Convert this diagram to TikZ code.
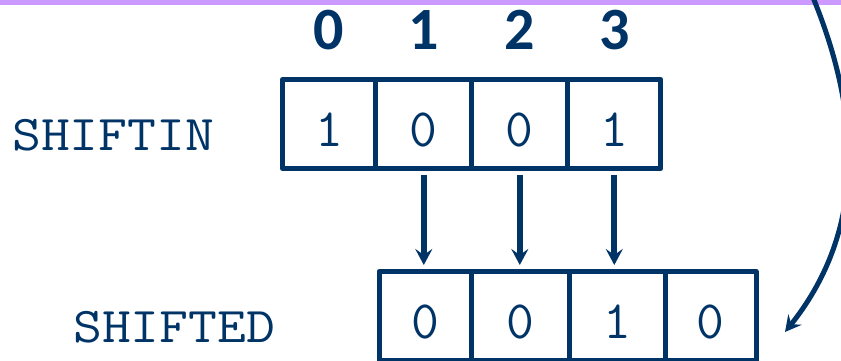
\documentclass[tikz,border=0pt]{standalone}
\usepackage{fontspec}
\newfontfamily\idxfont{Carlito}
\usetikzlibrary{arrows.meta}
\definecolor{navy}{HTML}{003366}
\definecolor{band}{HTML}{CC99FF}
\newcommand{\monotxt}[1]{\scalebox{1.12}[1]{\ttfamily\fontsize{50}{50}\selectfont #1}}
\newcommand{\monodigit}[1]{{\ttfamily\fontsize{54}{54}\selectfont #1}}
\begin{document}
\begin{tikzpicture}[x=1pt,y=1pt,
 cell/.style={draw=navy, line width=5pt, line join=round, minimum height=89pt, inner sep=0pt, outer sep=0pt},
 bit/.style={text=navy, anchor=base, inner sep=0pt},
 idx/.style={font=\idxfont\bfseries\fontsize{60}{60}\selectfont, text=navy, anchor=base, inner sep=0pt},
 lbl/.style={text=navy, anchor=base west, inner sep=0pt},
 tip/.style={-{Stealth[length=16pt,width=17pt,inset=6pt]}},
 shiftarrow/.style={draw=navy, line width=6pt, tip, shorten <=6.5pt, shorten >=6.5pt},
 wraparrow/.style={draw=navy, line width=5pt, tip},
]
\useasboundingbox (0,0) rectangle (841,361);
\clip (0,0) rectangle (841,361);
\fill[band] (0,356) rectangle (841,361);

% top register
\node[cell, minimum width=93.3pt] (t0) at (329.15,237) {};
\node[cell, minimum width=96pt]   (t1) at (423.8,237) {};
\node[cell, minimum width=96pt]   (t2) at (519.8,237) {};
\node[cell, minimum width=93pt]   (t3) at (614.3,237) {};

% bottom register
\node[cell, minimum width=92.5pt] (b0) at (425.25,45) {};
\node[cell, minimum width=97.5pt] (b1) at (520.25,45) {};
\node[cell, minimum width=96pt]   (b2) at (617,45) {};
\node[cell, minimum width=91pt]   (b3) at (710.5,45) {};

% bits
\node[bit] (d0) at ([yshift=-22.5pt]t0.center) {\monodigit{1}};
\node[bit] (d1) at ([yshift=-22.5pt]t1.center) {\monodigit{0}};
\node[bit] (d2) at ([yshift=-22.5pt]t2.center) {\monodigit{0}};
\node[bit] (d3) at ([yshift=-22.5pt]t3.center) {\monodigit{1}};
\node[bit] (e0) at ([yshift=-22.5pt]b0.center) {\monodigit{0}};
\node[bit] (e1) at ([yshift=-22.5pt]b1.center) {\monodigit{0}};
\node[bit] (e2) at ([yshift=-22.5pt]b2.center) {\monodigit{1}};
\node[bit] (e3) at ([yshift=-22.5pt]b3.center) {\monodigit{0}};

% indices
\node[idx] (i0) at ([yshift=74pt]t0.center) {0};
\node[idx] (i1) at ([yshift=74pt]t1.center) {1};
\node[idx] (i2) at ([yshift=74pt]t2.center) {2};
\node[idx] (i3) at ([yshift=74pt]t3.center) {3};

% labels
\node[lbl] (lin) at (12,210) {\monotxt{SHIFTIN}};
\node[lbl] (lout) at (73,18) {\monotxt{SHIFTED}};

% shift arrows
\draw[shiftarrow] (t1.south) -- (t1.south |- b0.north);
\draw[shiftarrow] (t2.south) -- (t2.south |- b1.north);
\draw[shiftarrow] (t3.south) -- (t3.south |- b2.north);

% wrap-around arrow
\coordinate (cs) at (812,366);
\coordinate (ce) at (785,29);
\draw[wraparrow] (cs) .. controls (866,236) and (861,124) .. (ce);
\end{tikzpicture}
\end{document}
